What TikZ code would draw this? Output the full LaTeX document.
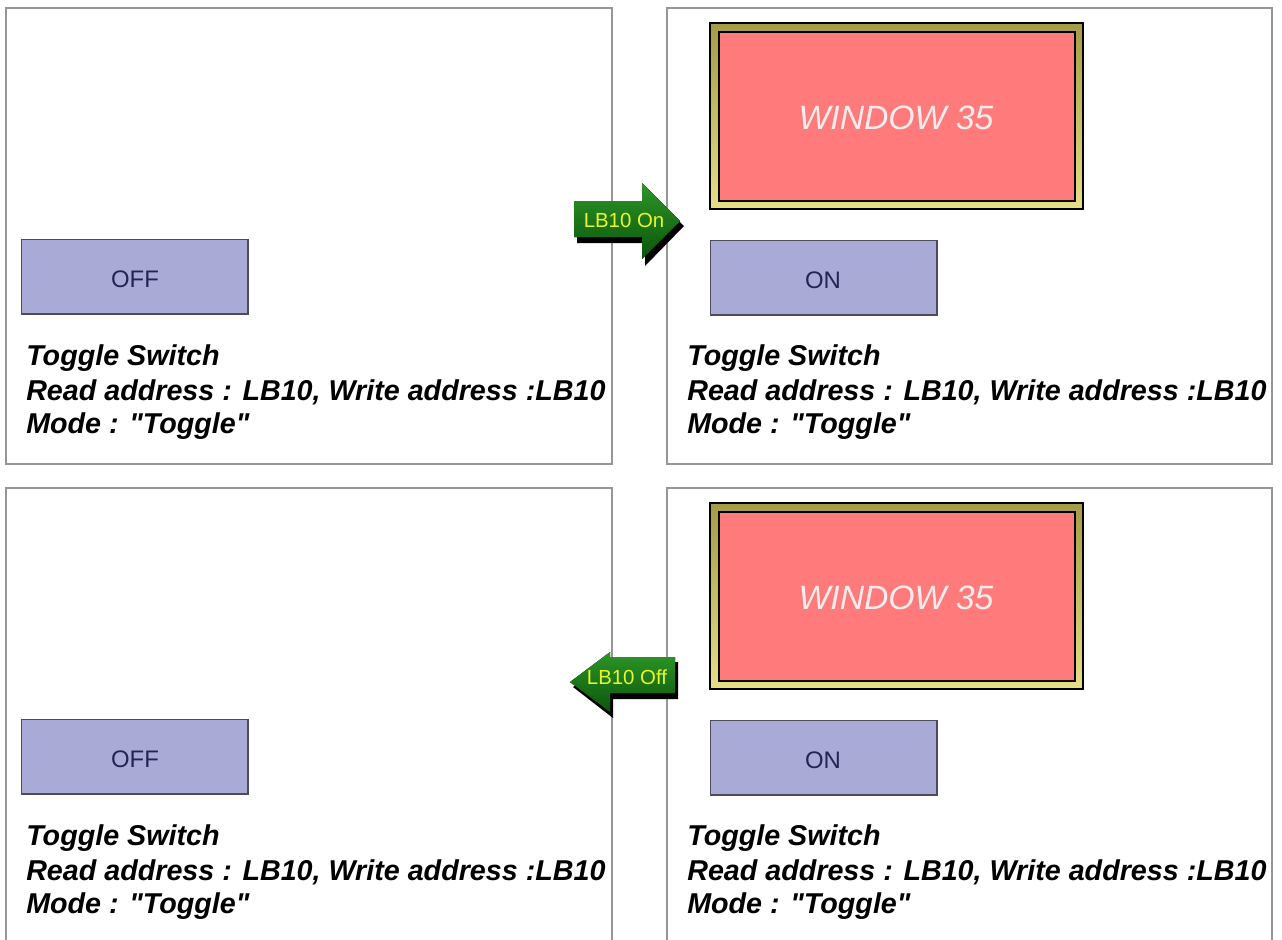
\documentclass[tikz,border=0pt]{standalone}
\usepackage{fontspec}
\setmainfont{Liberation Sans}
\definecolor{panelgray}{RGB}{150,150,150}
\definecolor{btnfill}{RGB}{170,170,214}
\definecolor{btnedge}{RGB}{75,75,90}
\definecolor{btntextc}{RGB}{35,35,85}
\definecolor{winpink}{RGB}{255,123,123}
\definecolor{winolive}{RGB}{165,155,70}
\definecolor{winyellow}{RGB}{230,222,135}
\definecolor{wintextc}{RGB}{250,236,236}
\definecolor{arrowlight}{RGB}{45,150,40}
\definecolor{arrowdark}{RGB}{10,85,10}
\definecolor{arrowyellow}{RGB}{235,245,40}
\begin{document}
\begin{tikzpicture}[x=0.025cm, y=-0.025cm,
    panel/.style={draw=panelgray, line width=1.1pt},
    button/.style={fill=btnfill, draw=btnedge, line width=0.6pt},
    btntext/.style={text=btntextc, inner sep=0pt, font=\fontsize{17}{19}\selectfont},
    infotext/.style={anchor=west, inner sep=0pt, font=\fontsize{20.4}{22}\selectfont\bfseries\itshape},
    wintext/.style={text=wintextc, inner sep=0pt, font=\fontsize{24}{26}\selectfont\itshape},
    arrowbody/.style={top color=arrowlight, bottom color=arrowdark},
    arrowtext/.style={text=arrowyellow, inner sep=0pt, font=\fontsize{14.5}{16}\selectfont}]
  \useasboundingbox (0,0) rectangle (1282,940);
  \fill[white] (0,0) rectangle (1282,940);

  % the four screens
  \draw[panel] (6,8) rectangle (612,464);
  \draw[panel] (667,8) rectangle (1272,464);
  \draw[panel] (6,945) -- (6,488) -- (612,488) -- (612,945);
  \draw[panel] (667,945) -- (667,488) -- (1272,488) -- (1272,945);

  \foreach \py/\row in {0/top,480/bot} {
    % OFF state, left screen
    \draw[button] (21,\py+239) rectangle (248,\py+314);
    \draw[btnedge, line width=1.4pt] (21,\py+314) -- (248,\py+314) -- (248,\py+239);
    \node[btntext] (off-\row) at (135,\py+279) {OFF};
    % ON state, right screen
    \draw[button] (710,\py+240) rectangle (937,\py+315);
    \draw[btnedge, line width=1.4pt] (710,\py+315) -- (937,\py+315) -- (937,\py+240);
    \node[btntext] (on-\row) at (823,\py+280) {ON};
    % popup window
    \shade[top color=winolive, bottom color=winyellow] (710,\py+23) rectangle (1083,\py+209);
    \draw[black, line width=1pt] (710,\py+23) rectangle (1083,\py+209);
    \draw[black, line width=1.8pt] (1083,\py+24) -- (1083,\py+209) -- (711,\py+209);
    \fill[winpink] (719,\py+32) rectangle (1075,\py+201);
    \draw[black, line width=2pt] (719,\py+32) rectangle (1075,\py+201);
    \node[wintext] (win-\row) at (896,\py+118) {WINDOW 35};
    % captions
    \foreach \px/\side in {26/l,687/r} {
      \node[infotext] (title-\row-\side) at (\px,\py+358) {Toggle Switch};
      \node[infotext] (read-\row-\side) at (\px,\py+392) {Read address : LB10, Write address :LB10};
      \node[infotext] (mode-\row-\side) at (\px,\py+426) {Mode : \textquotedbl Toggle\textquotedbl};
    }
  }

  % LB10 On
  \fill[black] (577,206) -- (645,206) -- (645,188) -- (684,226) -- (645,266) -- (645,243) -- (577,243) -- cycle;
  \fill[arrowbody] (574,201) -- (642,201) -- (642,183) -- (680,221) -- (642,259) -- (642,237) -- (574,237) -- cycle;
  \node[arrowtext] (lb-on) at (624,220) {LB10 On};

  % LB10 Off
  \fill[black] (573,687) -- (613,657) -- (613,662) -- (678,662) -- (678,699) -- (613,699) -- (613,718) -- cycle;
  \fill[arrowbody] (570,682) -- (610,652) -- (610,657) -- (675,657) -- (675,693) -- (610,693) -- (610,712) -- cycle;
  \node[arrowtext] (lb-off) at (627,677) {LB10 Off};
\end{tikzpicture}
\end{document}
